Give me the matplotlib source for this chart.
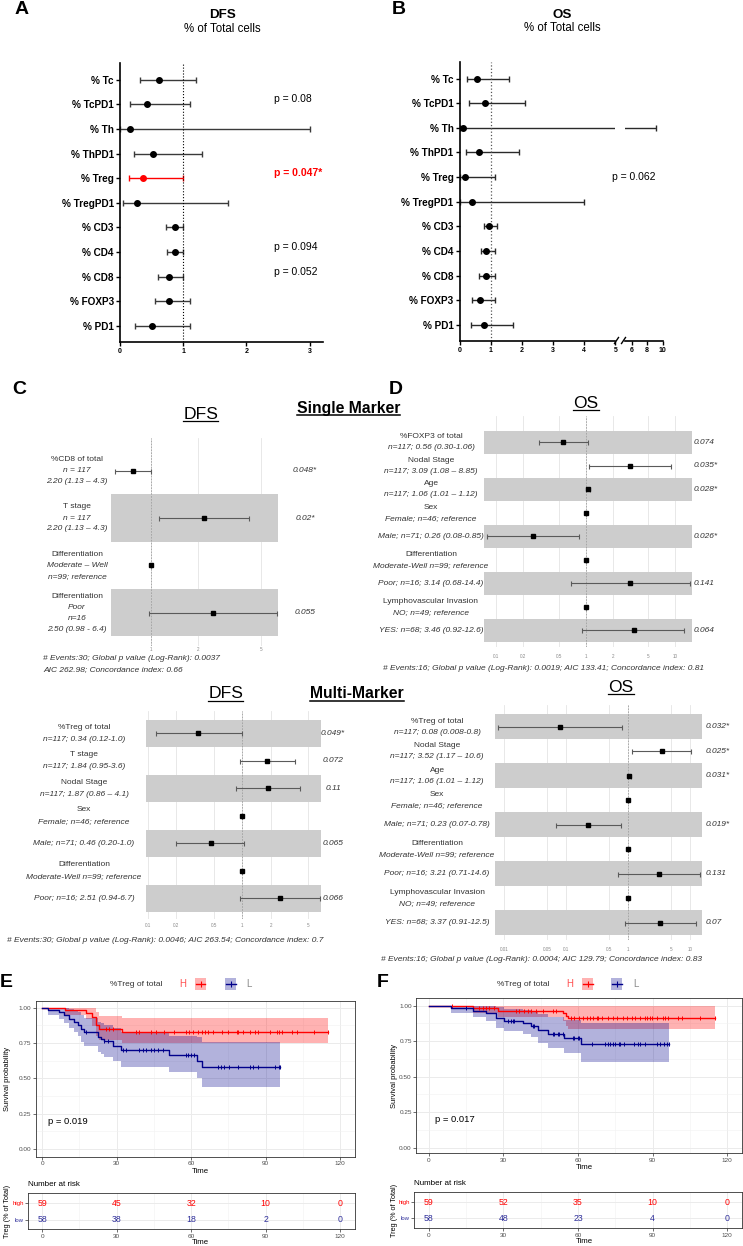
import numpy as np
import matplotlib
matplotlib.use('Agg')
import matplotlib.pyplot as plt
from matplotlib.transforms import blended_transform_factory
from matplotlib.patches import Rectangle
from matplotlib.lines import Line2D
from matplotlib.ticker import NullLocator

plt.rcParams['font.family'] = ['Liberation Sans', 'DejaVu Sans']

W, H = 743, 1246

# ---------------- panel A / B : hazard ratios per marker ----------------
ab_labels = ['% Tc', '% TcPD1', '% Th', '% ThPD1', '% Treg', '% TregPD1',
             '% CD3', '% CD4', '% CD8', '% FOXP3', '% PD1']
a_hr = [0.61, 0.43, 0.16, 0.52, 0.37, 0.27, 0.87, 0.87, 0.78, 0.77, 0.50]
a_lo = [0.31, 0.16, 0.0, 0.22, 0.14, 0.05, 0.73, 0.74, 0.60, 0.55, 0.23]
a_hi = [1.2, 1.1, 3.0, 1.3, 1.0, 1.7, 1.0, 1.0, 1.0, 1.1, 1.1]
a_p_rows = [1, 4, 7, 8]
a_p_text = ['p = 0.08', 'p = 0.047*', 'p = 0.094', 'p = 0.052']

b_hr = [0.57, 0.80, 0.10, 0.61, 0.17, 0.40, 0.93, 0.85, 0.83, 0.65, 0.77]
b_lo = [0.23, 0.31, 0.0, 0.21, 0.02, 0.02, 0.77, 0.68, 0.61, 0.38, 0.35]
b_hi = [1.6, 2.1, 9.2, 1.9, 1.12, 4.0, 1.2, 1.12, 1.12, 1.12, 1.7]
b_p_row = 4
b_p_text = 'p = 0.062'

# ---------------- panel C : single marker DFS ----------------
c_lines = [['%CD8 of total', 'n = 117', '2.20 (1.13 – 4.3)'],
           ['T stage', 'n = 117', '2.20 (1.13 – 4.3)'],
           ['Differentiation', 'Moderate – Well', 'n=99; reference'],
           ['Differentiation', 'Poor', 'n=16', '2.50 (0.98 - 6.4)']]
c_hr = [0.77, 2.17, 1.0, 2.47]
c_lo = [0.59, 1.13, 1.0, 0.97]
c_hi = [1.0, 4.2, 1.0, 6.3]
c_p = ['0.048*', '0.02*', '', '0.055']

# ---------------- panel D : single marker OS ----------------
d_lines = [['%FOXP3 of total', 'n=117; 0.56 (0.30-1.06)'],
           ['Nodal Stage', 'n=117; 3.09 (1.08 – 8.85)'],
           ['Age', 'n=117; 1.06 (1.01 – 1.12)'],
           ['Sex', 'Female; n=46; reference'],
           ['Male; n=71; 0.26 (0.08-0.85)'],
           ['Differentiation', 'Moderate-Well n=99; reference'],
           ['Poor; n=16; 3.14 (0.68-14.4)'],
           ['Lymphovascular Invasion', 'NO; n=49; reference'],
           ['YES: n=68; 3.46 (0.92-12.6)']]
d_hr = [0.56, 3.09, 1.06, 1.0, 0.26, 1.0, 3.14, 1.0, 3.46]
d_lo = [0.30, 1.08, 1.01, 1.0, 0.08, 1.0, 0.68, 1.0, 0.92]
d_hi = [1.06, 8.85, 1.12, 1.0, 0.85, 1.0, 14.4, 1.0, 12.6]
d_p = ['0.074', '0.035*', '0.028*', '', '0.026*', '', '0.141', '', '0.064']

# ---------------- multi marker DFS ----------------
m1_lines = [['%Treg of total', 'n=117; 0.34 (0.12-1.0)'],
            ['T stage', 'n=117; 1.84 (0.95-3.6)'],
            ['Nodal Stage', 'n=117; 1.87 (0.86 – 4.1)'],
            ['Sex', 'Female; n=46; reference'],
            ['Male; n=71; 0.46 (0.20-1.0)'],
            ['Differentiation', 'Moderate-Well n=99; reference'],
            ['Poor; n=16; 2.51 (0.94-6.7)']]
m1_hr = [0.34, 1.84, 1.87, 1.0, 0.46, 1.0, 2.51]
m1_lo = [0.12, 0.95, 0.86, 1.0, 0.20, 1.0, 0.94]
m1_hi = [1.0, 3.6, 4.1, 1.0, 1.05, 1.0, 6.7]
m1_p = ['0.049*', '0.072', '0.11', '', '0.065', '', '0.066']

# ---------------- multi marker OS ----------------
m2_lines = [['%Treg of total', 'n=117; 0.08 (0.008-0.8)'],
            ['Nodal Stage', 'n=117; 3.52 (1.17 – 10.6)'],
            ['Age', 'n=117; 1.06 (1.01 – 1.12)'],
            ['Sex', 'Female; n=46; reference'],
            ['Male; n=71; 0.23 (0.07-0.78)'],
            ['Differentiation', 'Moderate-Well n=99; reference'],
            ['Poor; n=16; 3.21 (0.71-14.6)'],
            ['Lymphovascular Invasion', 'NO; n=49; reference'],
            ['YES: n=68; 3.37 (0.91-12.5)']]
m2_hr = [0.08, 3.52, 1.06, 1.0, 0.23, 1.0, 3.21, 1.0, 3.37]
m2_lo = [0.008, 1.17, 1.01, 1.0, 0.07, 1.0, 0.71, 1.0, 0.91]
m2_hi = [0.8, 10.6, 1.12, 1.0, 0.78, 1.0, 14.6, 1.0, 12.5]
m2_p = ['0.032*', '0.025*', '0.031*', '', '0.019*', '', '0.131', '', '0.07']

# ---------------- panel E : KM DFS ----------------
e_hi_t = [0, 9.3, 17.6, 20.0, 21.7, 23.0, 32.0]
e_hi_s = [1.0, 0.983, 0.966, 0.932, 0.881, 0.847, 0.830]
e_hi_up = [1.0, 1.0, 1.0, 1.0, 0.97, 0.94, 0.93]
e_hi_low = [1.0, 0.95, 0.92, 0.87, 0.80, 0.77, 0.75]
e_hi_cens = [25.7, 27.0, 28.4, 37.8, 39.1, 43.8, 45.8, 49.2, 53.2, 57.9, 59.3,
             60.9, 62.9, 64.3, 65.6, 66.9, 69.0, 72.3, 75.0, 78.4, 79.0, 81.0,
             83.7, 85.8, 87.1, 91.8, 94.5, 95.2, 96.5, 100.6, 102.6, 109.3, 115.3]
e_lo_t = [0, 2.2, 6.9, 8.9, 10.9, 12.9, 14.3, 15.6, 17.0, 22.3, 23.7, 25.0,
          28.4, 31.7, 51.0, 62.5, 64.5]
e_lo_s = [1.0, 0.986, 0.970, 0.946, 0.922, 0.899, 0.880, 0.849, 0.826, 0.790,
          0.778, 0.762, 0.731, 0.698, 0.663, 0.625, 0.580]
e_lo_up = [1.0, 1.0, 1.0, 1.0, 0.99, 0.98, 0.97, 0.95, 0.93, 0.90, 0.89, 0.88,
           0.86, 0.83, 0.80, 0.79, 0.76]
e_lo_low = [1.0, 0.95, 0.92, 0.89, 0.86, 0.83, 0.80, 0.76, 0.73, 0.69, 0.67,
            0.65, 0.62, 0.58, 0.545, 0.50, 0.44]
e_lo_cens = [17.6, 25.0, 26.4, 32.7, 33.7, 39.1, 40.5, 41.8, 43.8, 45.2, 46.5,
             48.5, 57.9, 58.6, 59.9, 61.3, 70.7, 72.0, 73.4, 75.4, 79.0, 83.7,
             85.1, 87.1, 93.8, 95.2, 95.9]
e_risk_hi = [59, 45, 32, 10, 0]
e_risk_lo = [58, 38, 18, 2, 0]

# ---------------- panel F : KM OS ----------------
f_hi_t = [0, 17.9, 27.7, 53.9, 55.2, 55.9]
f_hi_s = [1.0, 0.983, 0.966, 0.946, 0.929, 0.911]
f_hi_up = [1.0, 1.0, 1.0, 1.0, 1.0, 1.0]
f_hi_low = [1.0, 0.95, 0.92, 0.89, 0.86, 0.835]
f_hi_cens = [9.4, 20.4, 21.7, 23.0, 24.4, 26.4, 35.1, 36.4, 38.4, 39.8, 41.1,
             43.1, 45.8, 49.8, 51.2, 57.2, 58.5, 60.5, 61.9, 63.5, 64.8, 66.2,
             67.5, 68.2, 69.5, 72.2, 74.2, 75.6, 78.2, 79.6, 81.6, 82.9, 84.9,
             86.9, 87.6, 88.9, 89.6, 91.6, 94.3, 95.0, 96.3, 100.3, 101.7,
             109.1, 115.1]
f_lo_t = [0, 9.0, 17.7, 23.0, 27.1, 30.4, 37.8, 41.1, 43.8, 47.8, 54.5, 61.2]
f_lo_s = [1.0, 0.982, 0.966, 0.946, 0.910, 0.894, 0.875, 0.859, 0.828, 0.798,
          0.770, 0.728]
f_lo_up = [1.0, 1.0, 1.0, 1.0, 0.99, 0.98, 0.97, 0.96, 0.94, 0.92, 0.90, 0.88]
f_lo_low = [1.0, 0.95, 0.92, 0.89, 0.84, 0.82, 0.80, 0.78, 0.74, 0.70, 0.67, 0.605]
f_lo_cens = [15.0, 31.7, 33.1, 33.7, 34.4, 41.8, 42.4, 49.8, 50.5, 51.8, 52.5,
             53.8, 57.8, 58.5, 59.9, 60.5, 65.5, 70.9, 72.2, 72.9, 74.2, 74.9,
             76.3, 76.9, 78.3, 82.3, 84.3, 85.0, 87.0, 91.7, 93.0, 94.4, 95.7, 96.4]
f_risk_hi = [59, 52, 35, 10, 0]
f_risk_lo = [58, 48, 23, 4, 0]

risk_times = [0, 30, 60, 90, 120]

RED = '#FF0000'
BLUE = '#00008B'
TXT = '#333333'

fig = plt.figure(figsize=(W / 100, H / 100), dpi=100)


def px_axes(x0, y0, x1, y1):
    a = fig.add_axes([x0 / W, 1 - y1 / H, (x1 - x0) / W, (y1 - y0) / H])
    a.patch.set_visible(False)
    return a


def ftext(x, y, s, **kw):
    return fig.text(x / W, 1 - y / H, s, **kw)


def underline(t, lw=1.0):
    r = fig.canvas.get_renderer()
    bb = t.get_window_extent(renderer=r)
    y = (bb.y0 + 1) / H
    fig.add_artist(Line2D([bb.x0 / W, bb.x1 / W], [y, y], transform=fig.transFigure,
                          color='black', lw=lw))


# ======================= A =======================
ax = px_axes(120, 63, 323, 342)
for i in range(len(ab_labels)):
    c = RED if i == 4 else 'black'
    ec = RED if i == 4 else '#3a3a3a'
    ax.errorbar(a_hr[i], i, xerr=[[a_hr[i] - a_lo[i]], [a_hi[i] - a_hr[i]]], fmt='o',
                color=c, ecolor=ec, ms=4, elinewidth=1, capsize=2.5, capthick=1,
                clip_on=False)
ax.axvline(1, color='black', ls=':', lw=0.8)
ax.set_xlim(0, 3.21)
ax.set_ylim(10.66, -0.68)
ax.set_yticks(range(len(ab_labels)), ab_labels, fontweight='bold', fontsize=7.2)
ax.set_xticks([0, 1, 2, 3], ['0', '1', '2', '3'], fontweight='bold', fontsize=5)
for s in ['top', 'right']:
    ax.spines[s].set_visible(False)
for s in ['left', 'bottom']:
    ax.spines[s].set_linewidth(1.2)
ax.tick_params(length=3, width=1, pad=1.5)
for r, txt in zip(a_p_rows, a_p_text):
    red = '*' in txt
    ax.text(2.43, r - 0.2, txt, fontsize=7.5, va='center',
            color=RED if red else 'black', fontweight='bold' if red else 'normal')
ftext(222, 15, 'DFS', ha='center', va='center', fontweight='bold', fontsize=9.6)
ftext(222, 29, '% of Total cells', ha='center', va='center', fontsize=8.3)

# ======================= B (broken axis) =======================
axb1 = px_axes(459.7, 61.7, 615.3, 340.7)
axb2 = px_axes(625, 61.7, 662.7, 340.7)
for a in (axb1, axb2):
    for i in range(len(ab_labels)):
        a.errorbar(b_hr[i], i, xerr=[[b_hr[i] - b_lo[i]], [b_hi[i] - b_hr[i]]], fmt='o',
                   color='black', ecolor='#2a2a2a', ms=4, elinewidth=1, capsize=2.5,
                   capthick=1)
    a.set_ylim(10.65, -0.69)
    for s in ['top', 'right']:
        a.spines[s].set_visible(False)
    a.spines['bottom'].set_linewidth(1.2)
    a.tick_params(length=3, width=1, pad=1.5)
axb1.set_xlim(0, 5)
axb1.axvline(1, color='#555555', ls=':', lw=0.9)
axb1.spines['left'].set_linewidth(1.2)
axb1.set_yticks(range(len(ab_labels)), ab_labels, fontweight='bold', fontsize=7.2)
axb1.set_xticks(range(6), [str(v) for v in range(6)], fontweight='bold', fontsize=5)
axb2.set_xlim(5.15, 10)
axb2.spines['left'].set_visible(False)
axb2.set_yticks([])
axb2.set_xticks([6, 8, 10], ['6', '8', '10'], fontweight='bold', fontsize=5)
axb1.text(4.9, b_p_row, b_p_text, fontsize=7.5, va='center', zorder=10)
for xa in (614.5, 621.5):
    fig.add_artist(Line2D([xa / W, (xa + 4) / W], [1 - 343.5 / H, 1 - 337.5 / H],
                          transform=fig.transFigure, color='black', lw=1))
ftext(562, 15, 'OS', ha='center', va='center', fontweight='bold', fontsize=9.6)
ftext(562, 28.3, '% of Total cells', ha='center', va='center', fontsize=8.3)


# ======================= forest plots =======================
def forest(box, row0, row_px, lines, hr, lo, hi, pvals, xlim, ticks, label_x,
           line_px, p_x, p_ha, band_even, tick_pad):
    x0, y0, x1, y1 = box
    ax = px_axes(*box)
    n = len(hr)
    rows = np.arange(n)
    ax.set_xscale('log')
    ax.set_xlim(*xlim)
    ax.set_ylim((y1 - row0) / row_px, (y0 - row0) / row_px)
    ax.set_axisbelow(True)
    for i in rows:
        if (i % 2 == 0) == band_even:
            ax.axhspan(i - 0.5, i + 0.5, color='#cdcdcd', lw=0, zorder=1)
    ax.set_xticks(ticks, [('%g' % v) for v in ticks])
    ax.xaxis.set_minor_locator(NullLocator())
    ax.grid(axis='x', color='#e4e4e4', lw=0.6)
    ax.axvline(1, color='#a0a0a0', lw=0.6, ls=(0, (2, 1.5)), zorder=2)
    ax.errorbar(hr, rows, xerr=[np.subtract(hr, lo), np.subtract(hi, hr)], fmt='s',
                color='black', ecolor='#5a5a5a', ms=3.5, elinewidth=0.8,
                capsize=1.8, capthick=0.8, zorder=3)
    ax.set_yticks([])
    ax.tick_params(axis='x', length=0, labelsize=3.3, labelcolor='#888888', pad=tick_pad)
    for s in ax.spines.values():
        s.set_visible(False)
    tr = blended_transform_factory(fig.transFigure, ax.transData)
    for i, ln in enumerate(lines):
        k = len(ln)
        for j, s in enumerate(ln):
            dy = (j - (k - 1) / 2) * line_px / row_px
            style = 'normal' if (j == 0 and k > 1) else 'italic'
            ax.text(label_x / W, i + dy, s, transform=tr, ha='center', va='center',
                    fontsize=6, style=style, color=TXT)
        if pvals[i]:
            ax.text(p_x / W, i, pvals[i], transform=tr, ha=p_ha, va='center',
                    fontsize=6, style='italic', color=TXT)
    return ax


forest((111, 438, 278, 646), 470.7, 47.3, c_lines, c_hr, c_lo, c_hi, c_p,
       (0.56, 6.4), [1, 2, 5], 77, 11, 305, 'center', False, 0.8)
ftext(43, 659, '# Events:30; Global p value (Log-Rank): 0.0037', fontsize=6,
      style='italic', color=TXT, va='center')
ftext(43, 669.5, 'AIC 262.98; Concordance index: 0.66', fontsize=6,
      style='italic', color=TXT, va='center')

forest((484.3, 416, 692, 647), 442.3, 23.5, d_lines, d_hr, d_lo, d_hi, d_p,
       (0.074, 15.3), [0.1, 0.2, 0.5, 1, 2, 5, 10], 431, 11, 693.7, 'left', True, 5)
ftext(383, 668.3, '# Events:16; Global p value (Log-Rank): 0.0019; AIC 133.41; '
      'Concordance index: 0.81', fontsize=6, style='italic', color=TXT, va='center')

forest((146, 711, 320.7, 918.5), 733.3, 27.5, m1_lines, m1_hr, m1_lo, m1_hi, m1_p,
       (0.095, 6.78), [0.1, 0.2, 0.5, 1, 2, 5], 84, 12, 333, 'center', True, 3.5)
ftext(7, 940, '# Events:30; Global p value (Log-Rank): 0.0046; AIC 263.54; '
      'Concordance index: 0.7', fontsize=6, style='italic', color=TXT, va='center')

forest((495.3, 705, 702, 940), 726.7, 24.5, m2_lines, m2_hr, m2_lo, m2_hi, m2_p,
       (0.0073, 15.8), [0.01, 0.05, 0.1, 0.5, 1, 5, 10], 437, 11, 705.3, 'left',
       True, 5)
ftext(381, 959.3, '# Events:16; Global p value (Log-Rank): 0.0004; AIC 129.79; '
      'Concordance index: 0.83', fontsize=6, style='italic', color=TXT, va='center')

# section titles
for x, y, s, fs, fw in [(348.5, 408, 'Single Marker', 11.3, 'bold'),
                        (357, 694, 'Multi-Marker', 11.3, 'bold'),
                        (200.8, 414, 'DFS', 12.6, 'normal'),
                        (586, 403, 'OS', 12.5, 'normal'),
                        (225.8, 694, 'DFS', 12.6, 'normal'),
                        (621, 687.5, 'OS', 12.5, 'normal')]:
    t = ftext(x, y, s, ha='center', va='center', fontsize=fs, fontweight=fw)
    underline(t, lw=1.1 if fw == 'bold' else 0.9)


# ======================= KM panels =======================
def km_axes(box, xlim, ylim):
    ax = px_axes(*box)
    ax.set_xlim(*xlim)
    ax.set_ylim(*ylim)
    ax.set_axisbelow(True)
    ax.set_xticks(risk_times, [str(v) for v in risk_times])
    ax.set_xticks([15, 45, 75, 105], minor=True)
    ax.grid(which='major', color='#ebebeb', lw=0.7)
    ax.grid(which='minor', color='#f2f2f2', lw=0.4)
    ax.tick_params(which='major', labelsize=4.6, labelcolor='#4d4d4d', length=2,
                   width=0.5, color='#333333', pad=1.2)
    ax.tick_params(which='minor', length=0)
    for s in ax.spines.values():
        s.set_color('#333333')
        s.set_linewidth(0.6)
    return ax


def km_curve(ax, t, s, up, low, cens, color):
    end = max(cens)
    tt = list(t) + [end]
    ax.fill_between(tt, list(low) + [low[-1]], list(up) + [up[-1]], step='post',
                    color=color, alpha=0.3, lw=0)


def km_line(ax, t, s, cens, color):
    end = max(cens)
    ax.step(list(t) + [end], list(s) + [s[-1]], where='post', color=color, lw=1)
    idx = np.searchsorted(t, cens, side='right') - 1
    ax.plot(cens, np.array(s)[idx], ls='none', marker='|', ms=3.5, mew=0.7, color=color)


def km_panel(box, rbox, xlim, ylim, rxlim, rylim, hi, lo, risk_hi, risk_lo, ptxt, pxy,
             ylab_x, leg):
    ax = km_axes(box, xlim, ylim)
    ax.set_yticks([0, 0.25, 0.5, 0.75, 1.0], ['0.00', '0.25', '0.50', '0.75', '1.00'])
    ax.set_yticks([0.125, 0.375, 0.625, 0.875], minor=True)
    km_curve(ax, *hi, RED)
    km_curve(ax, *lo, BLUE)
    km_line(ax, hi[0], hi[1], hi[4], RED)
    km_line(ax, lo[0], lo[1], lo[4], BLUE)
    ax.text(pxy[0], pxy[1], ptxt, fontsize=6.8, va='center', color='black')
    x0, y0, x1, y1 = box
    ftext(ylab_x, (y0 + y1) / 2, 'Survival probability', rotation=90, ha='center',
          va='center', fontsize=5.4, color='black')
    ftext((x0 + x1) / 2 + 5, y1 + 14.5, 'Time', ha='center', va='center', fontsize=5.6)

    rt = km_axes(rbox, rxlim, rylim)
    rt.set_yticks([1, 0], ['high', 'low'])
    rt.tick_params(axis='y', labelsize=4.3, length=2)
    rt.get_yticklabels()[0].set_color(RED)
    rt.get_yticklabels()[1].set_color('#2E2E9A')
    for tm, n in zip(risk_times, risk_hi):
        rt.text(tm, 1, str(n), ha='center', va='center', fontsize=6.3, color=RED)
    for tm, n in zip(risk_times, risk_lo):
        rt.text(tm, 0, str(n), ha='center', va='center', fontsize=6.3, color='#2E2E9A')
    rx0, ry0, rx1, ry1 = rbox
    ftext(rx0, ry0 - 8.5, 'Number at risk', fontsize=5.8, va='center', color='black')
    ftext(ylab_x, (ry0 + ry1) / 2, 'Treg (% of Total)', rotation=90, ha='center',
          va='center', fontsize=5.2, color='black')
    ftext((x0 + x1) / 2 + 5, ry1 + 13.5, 'Time', ha='center', va='center', fontsize=5.6)

    # legend strip
    lx, hx, rpx, bpx, Lx, ly = leg
    ftext(lx, ly, '%Treg of total', fontsize=6, va='center', color=TXT)
    ftext(hx, ly, 'H', fontsize=7, ha='center', va='center', color='#ff5050')
    ftext(Lx, ly, 'L', fontsize=7, ha='center', va='center', color='#8a8a8a')
    for px0, col in ((rpx, RED), (bpx, BLUE)):
        fig.add_artist(Rectangle((px0 / W, 1 - (ly + 6) / H), 11 / W, 12 / H,
                                 transform=fig.transFigure, facecolor=col, alpha=0.3,
                                 lw=0))
        fig.add_artist(Line2D([(px0 + 0.5) / W, (px0 + 10.5) / W], [1 - ly / H] * 2,
                              transform=fig.transFigure, color=col, lw=1))
        fig.add_artist(Line2D([(px0 + 5.5) / W], [1 - ly / H], transform=fig.transFigure,
                              color=col, marker='|', ms=4, mew=0.8))


km_panel((36, 1000.7, 355, 1156.7), (28.3, 1193.3, 355, 1229.3), (-2.5, 126),
         (-0.055, 1.05), (-5.6, 126), (-0.56, 1.6),
         (e_hi_t, e_hi_s, e_hi_up, e_hi_low, e_hi_cens),
         (e_lo_t, e_lo_s, e_lo_up, e_lo_low, e_lo_cens),
         e_risk_hi, e_risk_lo, 'p = 0.019', (2.3, 0.193), 8,
         (110, 183, 195, 225, 249, 984))

km_panel((416.3, 998.3, 742, 1153.3), (414.3, 1191.7, 742, 1228.3), (-5, 125.9),
         (-0.04, 1.052), (-5.8, 125.9), (-0.63, 1.66),
         (f_hi_t, f_hi_s, f_hi_up, f_hi_low, f_hi_cens),
         (f_lo_t, f_lo_s, f_lo_up, f_lo_low, f_lo_cens),
         f_risk_hi, f_risk_lo, 'p = 0.017', (2.65, 0.195), 395,
         (497, 570, 582, 611, 636, 984))

# panel letters
for x, y, s in [(15, 1, 'A'), (392, 1, 'B'), (12, 381, 'C'), (389, 381, 'D'),
                (0, 974, 'E'), (377, 974, 'F')]:
    ftext(x, y, s, fontsize=14, fontweight='bold', va='top', ha='left')

fig.savefig('out.png', dpi=100, facecolor='white')
